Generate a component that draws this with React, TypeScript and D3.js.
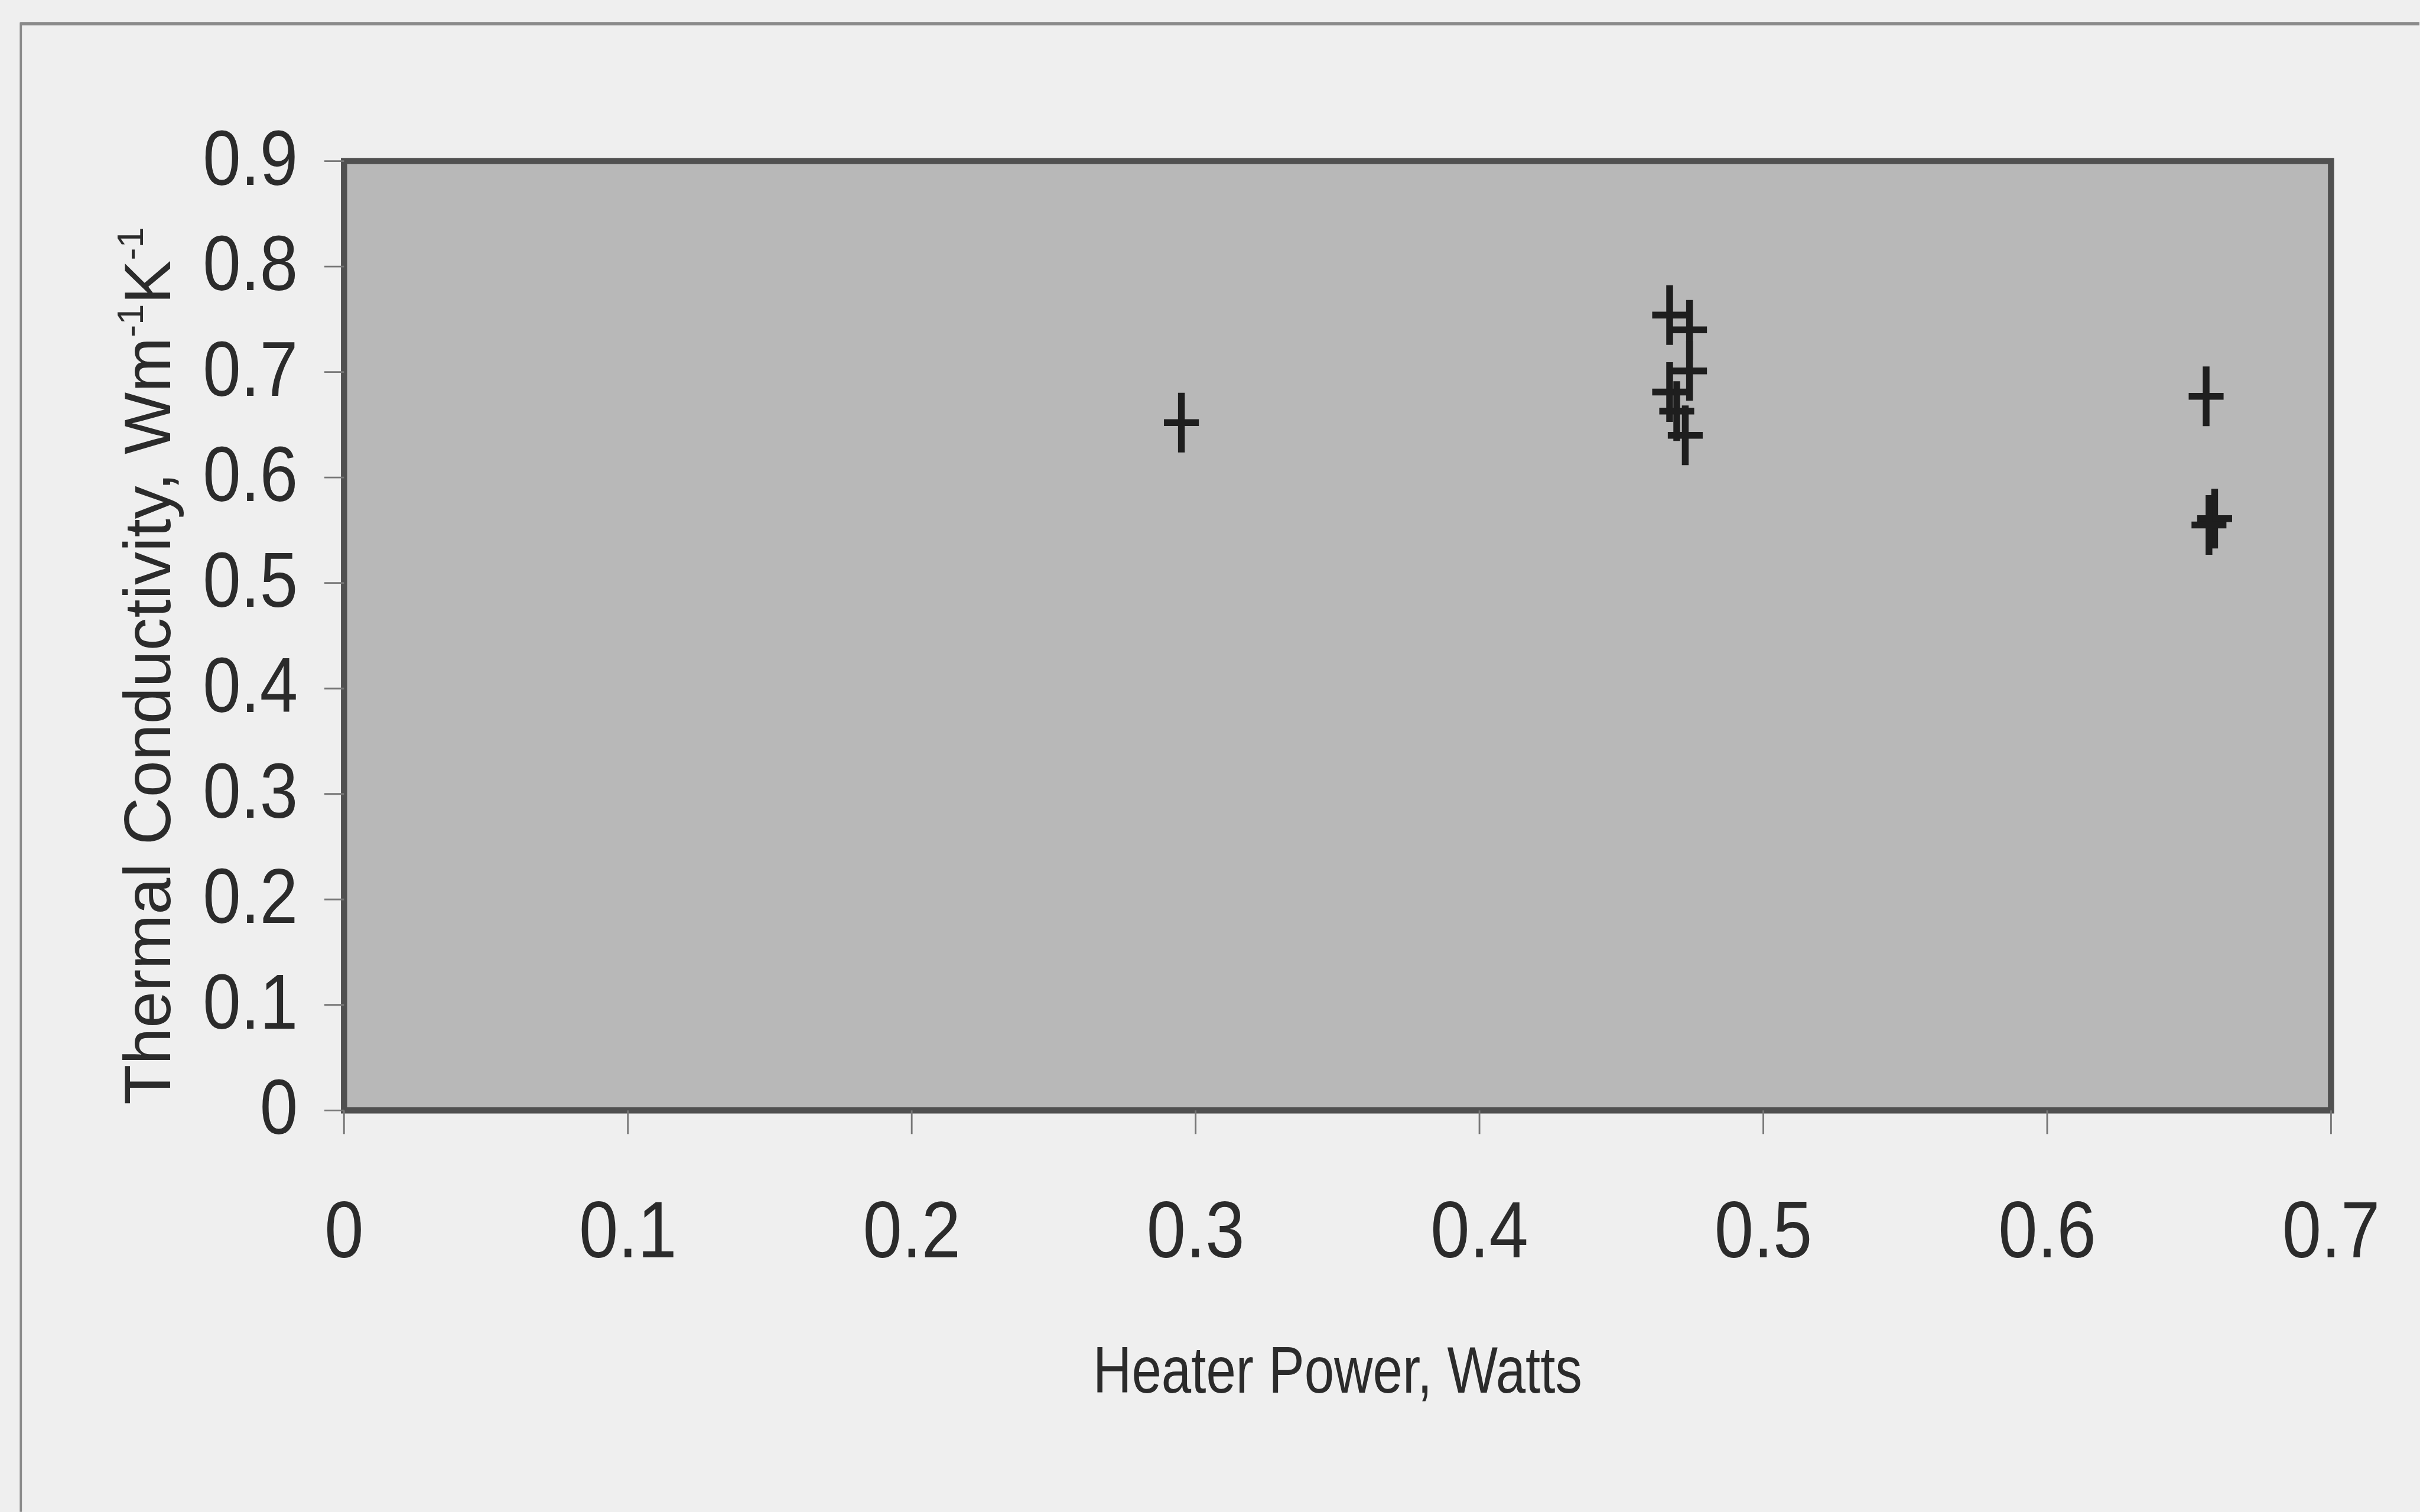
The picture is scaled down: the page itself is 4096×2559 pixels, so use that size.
import React, { useEffect } from "react";
import * as d3 from "d3";

// ---- data ----
const heaterPower: number[] = [0.295, 0.467, 0.474, 0.474, 0.467, 0.4695, 0.4725, 0.656, 0.659, 0.657];
const conductivity: number[] = [0.652, 0.754, 0.740, 0.701, 0.681, 0.663, 0.640, 0.677, 0.561, 0.555];
const xTicks: number[] = [0, 0.1, 0.2, 0.3, 0.4, 0.5, 0.6, 0.7];
const yTicks: number[] = [0, 0.1, 0.2, 0.3, 0.4, 0.5, 0.6, 0.7, 0.8, 0.9];
const xTitle = "Heater Power, Watts";
const yTitleMain = "Thermal Conductivity, Wm";
const yTitleSup = "-1";
const yTitleK = "K";

const W = 4096;
const H = 2559;
const S = 0.953;

// layout in reference pixels (scaled by S)
const plot = { left: 611, right: 4140, top: 286, bottom: 1972 };
const FONT = "'Liberation Sans', Arial, Helvetica, sans-serif";
const INK = "#2b2b2b";

export default function App() {
  useEffect(() => {
    document.body.style.margin = "0";
    document.body.style.overflow = "hidden";
  }, []);

  const x = d3.scaleLinear().domain([0, 0.7]).range([plot.left, plot.right]);
  const y = d3.scaleLinear().domain([0, 0.9]).range([plot.bottom, plot.top]);
  const fmt = (v: number) => (v === 0 ? "0" : d3.format(".1f")(v));

  const halfV = 53;
  const halfH = 31;

  return (
    <svg width={W} height={H} style={{ display: "block", position: "absolute", left: 0, top: 0 }}>
      <rect x={0} y={0} width={W} height={H} fill="#efefef" />
      <g transform={`scale(${S})`}>
        {/* outer frame (top and left edges) */}
        <line x1={36} y1={42} x2={4297} y2={42} stroke="#8a8a8a" strokeWidth={6} />
        <line x1={37} y1={40} x2={37} y2={2685} stroke="#8a8a8a" strokeWidth={4} />

        {/* plot area */}
        <rect
          x={plot.left}
          y={plot.top}
          width={plot.right - plot.left}
          height={plot.bottom - plot.top}
          fill="#b8b8b8"
          stroke="#505050"
          strokeWidth={11}
        />

        {/* y ticks and labels */}
        {yTicks.map((t) => (
          <g key={`y${t}`}>
            <line x1={plot.left - 35} x2={plot.left} y1={y(t)} y2={y(t)} stroke="#777" strokeWidth={3} />
            <text
              transform={`translate(${529},${y(t) + 42}) scale(0.88,1)`}
              textAnchor="end"
              fontFamily={FONT}
              fontSize={138}
              fill={INK}
            >
              {fmt(t)}
            </text>
          </g>
        ))}

        {/* x ticks and labels */}
        {xTicks.map((t) => (
          <g key={`x${t}`}>
            <line x1={x(t)} x2={x(t)} y1={plot.bottom} y2={plot.bottom + 42} stroke="#777" strokeWidth={3} />
            <text
              transform={`translate(${x(t)},${2233}) scale(0.88,1)`}
              textAnchor="middle"
              fontFamily={FONT}
              fontSize={142}
              fill={INK}
            >
              {fmt(t)}
            </text>
          </g>
        ))}

        {/* axis titles */}
        <text
          transform={`translate(${(plot.left + plot.right) / 2},${2473}) scale(0.82,1)`}
          textAnchor="middle"
          fontFamily={FONT}
          fontSize={116}
          fill={INK}
        >
          {xTitle}
        </text>
        <text
          transform={`translate(${302},${1962}) rotate(-90)`}
          textAnchor="start"
          fontFamily={FONT}
          fontSize={117}
          fill={INK}
        >
          {yTitleMain}
          <tspan fontSize={66} dy={-48}>{yTitleSup}</tspan>
          <tspan fontSize={117} dy={48}>{yTitleK}</tspan>
          <tspan fontSize={66} dy={-48}>{yTitleSup}</tspan>
        </text>

        {/* markers: plus signs */}
        {heaterPower.map((p, i) => {
          const cx = x(p);
          const cy = y(conductivity[i]);
          return (
            <path
              key={`m${i}`}
              d={`M${cx},${cy - halfV}V${cy + halfV}M${cx - halfH},${cy}H${cx + halfH}`}
              stroke="#1e1e1e"
              strokeWidth={12}
              fill="none"
            />
          );
        })}
      </g>
    </svg>
  );
}
